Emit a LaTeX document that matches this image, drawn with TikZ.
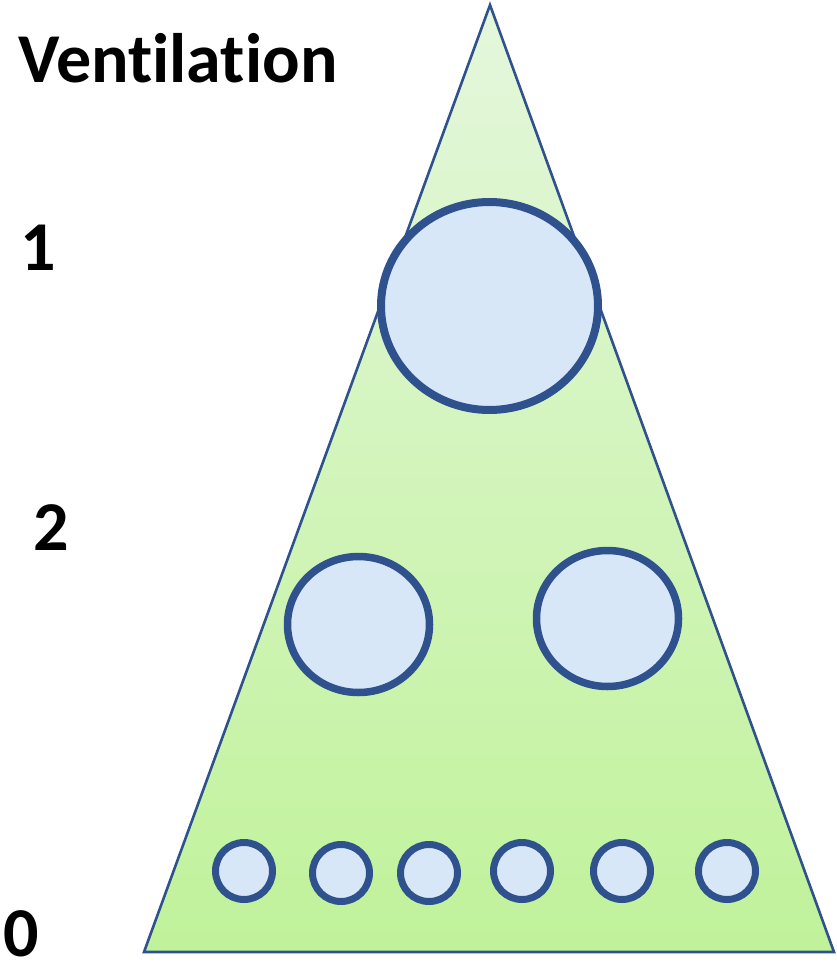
\documentclass[tikz,border=0pt]{standalone}
\usepackage{fontspec}
\setmainfont{Carlito}
\definecolor{edgeblue}{RGB}{47,82,143}
\definecolor{cellfill}{RGB}{216,231,247}
\definecolor{greentop}{RGB}{228,247,220}
\definecolor{greenbot}{RGB}{192,242,154}
\tikzset{
  cell/.style={draw=edgeblue, fill=cellfill},
  label/.style={anchor=base west, inner sep=0pt, font=\bfseries\fontsize{70}{70}\selectfont}
}
\begin{document}
\begin{tikzpicture}[x=1pt,y=-1pt]
\useasboundingbox (0,0) rectangle (836,965);
% pyramid body with vertical green gradient
\shade[top color=greentop, bottom color=greenbot] (490,5) -- (834,952) -- (144,952) -- cycle;
\draw[edgeblue, line width=2.6pt, line join=miter] (490,5) -- (834,952) -- (144,952) -- cycle;
% top level
\draw[cell, line width=8pt] (489.5,306) ellipse [x radius=108.5, y radius=104];
% middle level
\draw[cell, line width=7.5pt] (358.5,624.5) ellipse [x radius=71, y radius=68];
\draw[cell, line width=7.5pt] (607.5,618.5) ellipse [x radius=71, y radius=68];
% bottom level
\foreach \cx/\cy in {244/871, 341/873, 429/873, 522/871, 622/871, 727/871}
  \draw[cell, line width=7pt] (\cx,\cy) circle [radius=28.5];
% labels (kerns keep the t and i as separate glyphs)
\node[label] (title) at (18,83) {Vent\kern0pt ilat\kern0pt ion};
\node[label] (one) at (20,270) {1};
\node[label] (two) at (33,550) {2};
\node[label] (zero) at (3,956) {0};
\end{tikzpicture}
\end{document}
